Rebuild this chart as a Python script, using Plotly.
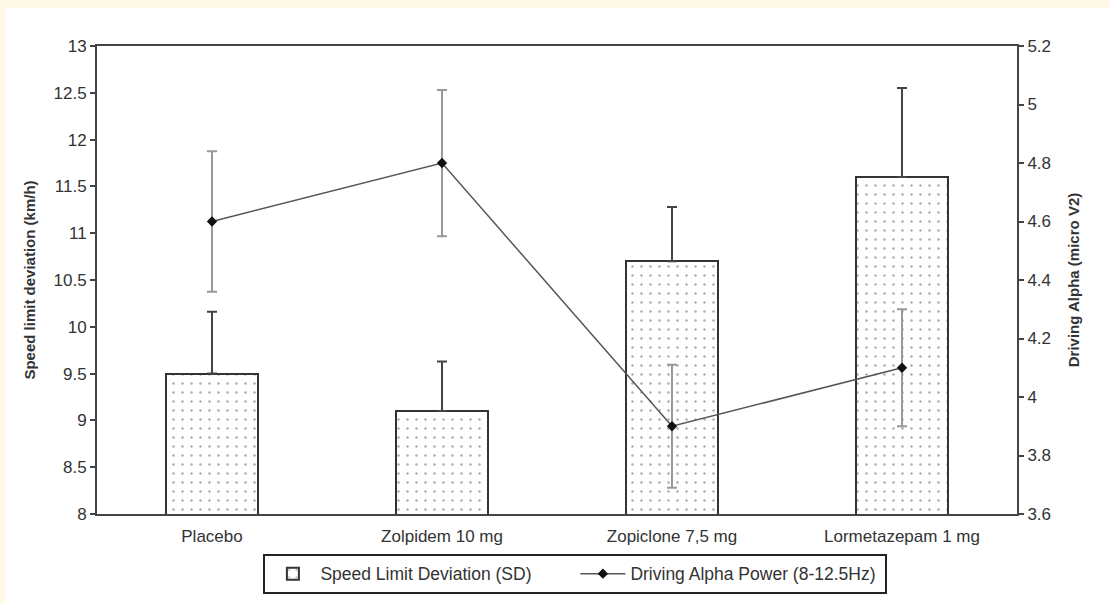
import plotly.graph_objects as go

# Treatment groups
categories = ["Placebo", "Zolpidem 10 mg", "Zopiclone 7,5 mg", "Lormetazepam 1 mg"]

# Speed limit deviation (km/h), mean and SD
speed_dev = [9.5, 9.1, 10.7, 11.6]
speed_sd = [0.66, 0.53, 0.58, 0.95]

# Driving alpha power (micro V2), mean and error
alpha_power = [4.6, 4.8, 3.9, 4.1]
alpha_err = [0.24, 0.25, 0.21, 0.2]

left_ticks = [8, 8.5, 9, 9.5, 10, 10.5, 11, 11.5, 12, 12.5, 13]
right_ticks = [3.6, 3.8, 4, 4.2, 4.4, 4.6, 4.8, 5, 5.2]

xpos = list(range(len(categories)))
boundaries = [i + 0.5 for i in xpos[:-1]]

FONT = "Liberation Sans, Arial, sans-serif"
TXT = "#333333"
AX = "#444444"

fig = go.Figure()

fig.add_trace(go.Bar(
    x=xpos, y=speed_dev, width=0.4,
    name="Speed Limit Deviation (SD)",
    marker=dict(
        color="white",
        line=dict(color="#333333", width=2),
        pattern=dict(shape=".", size=9, solidity=0.06,
                     fgcolor="#555555", bgcolor="white", fillmode="overlay"),
    ),
    error_y=dict(type="data", array=speed_sd, arrayminus=[0] * 4,
                 symmetric=False, color="#444444", thickness=2, width=5),
    yaxis="y", xaxis="x",
))

fig.add_trace(go.Scatter(
    x=xpos, y=alpha_power, mode="lines+markers",
    name="Driving Alpha Power (8-12.5Hz)",
    line=dict(color="#555555", width=1.5),
    marker=dict(symbol="diamond", size=8, color="#111111"),
    error_y=dict(type="data", array=alpha_err, color="#999999",
                 thickness=2, width=5),
    yaxis="y2", xaxis="x",
))

tick_font = dict(family=FONT, size=17, color=TXT)
title_font = dict(family=FONT, size=15, color=TXT)

fig.update_layout(
    width=1109, height=603,
    margin=dict(l=97, r=92, t=46, b=89, autoexpand=False),
    paper_bgcolor="#fdf8e8",
    plot_bgcolor="white",
    showlegend=True,
    bargap=0,
    xaxis=dict(
        range=[-0.5, 3.5], tickvals=xpos, ticktext=categories,
        ticks="", showgrid=False, zeroline=False,
        showline=True, linecolor=AX, linewidth=2, mirror=True,
        tickfont=tick_font, ticklabelstandoff=6, fixedrange=True,
    ),
    xaxis2=dict(
        overlaying="x", range=[-0.5, 3.5], tickvals=boundaries,
        ticks="outside", ticklen=5, tickwidth=2, tickcolor=AX,
        showticklabels=False, showgrid=False, zeroline=False,
        showline=False, side="bottom", anchor="y",
    ),
    xaxis3=dict(
        overlaying="x", range=[-0.5, 3.5], tickvals=boundaries,
        ticks="inside", ticklen=5, tickwidth=2, tickcolor=AX,
        showticklabels=False, showgrid=False, zeroline=False,
        showline=False, side="bottom", anchor="y",
    ),
    yaxis=dict(
        range=[8, 13], tickvals=left_ticks,
        ticktext=[f"{v:g}" for v in left_ticks],
        ticks="outside", ticklen=5, tickwidth=2, tickcolor=AX,
        showgrid=False, zeroline=False,
        showline=True, linecolor=AX, linewidth=2,
        tickfont=tick_font,
        title=dict(text="<b>Speed limit deviation (km/h)</b>",
                   font=title_font, standoff=14),
    ),
    yaxis2=dict(
        range=[3.6, 5.2], tickvals=right_ticks,
        ticktext=[f"{v:g}" for v in right_ticks],
        overlaying="y", side="right", anchor="x",
        ticks="outside", ticklen=5, tickwidth=2, tickcolor=AX,
        showgrid=False, zeroline=False,
        showline=True, linecolor=AX, linewidth=2,
        tickfont=tick_font,
        title=dict(text="<b>Driving Alpha (micro V2)</b>",
                   font=title_font, standoff=18),
    ),
    yaxis3=dict(
        range=[8, 13], tickvals=left_ticks, overlaying="y", side="left",
        anchor="x", ticks="inside", ticklen=5, tickwidth=2, tickcolor=AX,
        showticklabels=False, showgrid=False, zeroline=False, showline=False,
    ),
    yaxis4=dict(
        range=[3.6, 5.2], tickvals=right_ticks, overlaying="y", side="right",
        anchor="x", ticks="inside", ticklen=5, tickwidth=2, tickcolor=AX,
        showticklabels=False, showgrid=False, zeroline=False, showline=False,
    ),
    legend=dict(
        orientation="h", x=0.52, xanchor="center", y=-0.085, yanchor="top",
        bordercolor="#222222", borderwidth=2, bgcolor="white",
        font=dict(family=FONT, size=17.5, color=TXT),
        traceorder="normal", tracegroupgap=0,
        itemwidth=45, entrywidth=250,
    ),
    shapes=[
        # white page area inside the cream edge
        dict(type="rect", xref="paper", yref="paper", layer="below",
             x0=-92 / 920, x1=1 + 120 / 920,
             y0=-120 / 468, y1=1 + 38 / 468,
             fillcolor="white", line=dict(width=0)),
    ],
)

fig.write_html("out.html")
